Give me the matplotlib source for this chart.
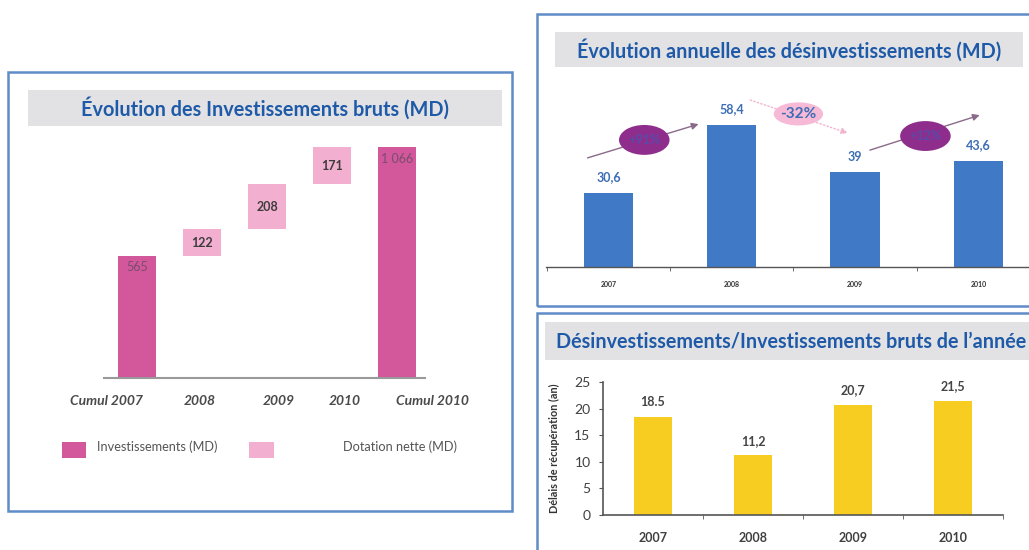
import matplotlib
matplotlib.use("Agg")
import matplotlib.pyplot as plt
from matplotlib.patches import Rectangle, Ellipse
from matplotlib.transforms import ScaledTranslation
import numpy as np

plt.rcParams['font.family'] = ['Lato', 'DejaVu Sans']

# ---------------------------------------------------------------
# data
# ---------------------------------------------------------------
# left: waterfall of gross investments (MD)
wf_labels = ["Cumul 2007", "2008", "2009", "2010", "Cumul 2010"]
wf_start = 565
wf_steps = [122, 208, 171]
wf_total = wf_start + sum(wf_steps)        # 1 066

# top right: yearly divestments (MD)
div_years = ["2007", "2008", "2009", "2010"]
div_values = [30.6, 58.4, 39, 43.6]
div_value_labels = ["30,6", "58,4", "39", "43,6"]
div_growth = ["+91%", "-32%", "+12%"]

# bottom right: divestments / gross investments of the year
ratio_years = ["2007", "2008", "2009", "2010"]
ratio_values = [18.5, 11.2, 20.7, 21.5]
ratio_labels = ["18.5", "11,2", "20,7", "21,5"]

# ---------------------------------------------------------------
# colours
# ---------------------------------------------------------------
DARK_PINK = "#d2579b"
LIGHT_PINK = "#f3afd0"
BAR_BLUE = "#4079c5"
YELLOW = "#f8cd22"
TITLE_BLUE = "#1e5aa8"
LABEL_BLUE = "#3c6db5"
BORDER = "#5f8cc6"
BOX_GRAY = "#e2e2e4"
PURPLE = "#8e2d8c"

W, H = 1029, 550


def px_rect(x0, y0, x1, y1):
    """pixel box (top-left origin) -> figure fraction rect"""
    return [x0 / W, 1 - y1 / H, (x1 - x0) / W, (y1 - y0) / H]


def fig_box(fig, x0, y0, x1, y1, **kw):
    r = px_rect(x0, y0, x1, y1)
    fig.add_artist(Rectangle((r[0], r[1]), r[2], r[3],
                             transform=fig.transFigure, **kw))


def fig_text(fig, x, y, s, **kw):
    fig.text(x / W, 1 - y / H, s, **kw)


fig = plt.figure(figsize=(W / 100, H / 100), dpi=100)
fig.patch.set_facecolor("white")

# panel frames
fig_box(fig, 8, 72, 512, 511, fill=False, edgecolor=BORDER, lw=1.8)
fig_box(fig, 537, 14, 1040, 306, fill=False, edgecolor=BORDER, lw=1.8)
fig_box(fig, 537, 313, 1040, 560, fill=False, edgecolor=BORDER, lw=1.8)

# title boxes
fig_box(fig, 28, 90, 502, 126, facecolor=BOX_GRAY, edgecolor="none")
fig_text(fig, 265, 108, "Évolution des Investissements bruts (MD)",
         ha="center", va="center", fontsize=14.3, fontweight="bold",
         color=TITLE_BLUE)
fig_box(fig, 555, 32, 1023, 67, facecolor=BOX_GRAY, edgecolor="none")
fig_text(fig, 789, 50, "Évolution annuelle des désinvestissements (MD)",
         ha="center", va="center", fontsize=14.2, fontweight="bold",
         color=TITLE_BLUE)
fig_box(fig, 545, 322, 1035, 360, facecolor=BOX_GRAY, edgecolor="none")
fig_text(fig, 791, 342, "Désinvestissements/Investissements bruts de l\u2019année",
         ha="center", va="center", fontsize=14.2, fontweight="bold",
         color=TITLE_BLUE)

# ---------------------------------------------------------------
# left: waterfall
# ---------------------------------------------------------------
ax1 = fig.add_axes(px_rect(104, 140, 425, 378))
x1 = np.arange(len(wf_labels))
bw = 0.585
ax1.bar(x1[0], wf_start, width=bw, color=DARK_PINK)
ax1.bar(x1[-1], wf_total, width=bw, color=DARK_PINK)
bottoms = wf_start + np.concatenate([[0], np.cumsum(wf_steps)[:-1]])
ax1.bar(x1[1:-1], wf_steps, bottom=bottoms, width=bw, color=LIGHT_PINK)

for xi, v in [(x1[0], wf_start), (x1[-1], wf_total)]:
    ax1.annotate(f"{v:,}".replace(",", " "), (xi, v), xytext=(0, -4),
                 textcoords="offset points", ha="center", va="top",
                 fontsize=9, color="#7a4d6e")
for xi, b, v in zip(x1[1:-1], bottoms, wf_steps):
    ax1.text(xi, b + v / 2, str(v), ha="center", va="center",
             fontsize=9, fontweight="bold", color="#3c3c3c")

ax1.set_xlim(-0.508, 4.43)
ax1.set_ylim(0, 1100)
ax1.set_xticks(x1)
ax1.set_xticklabels(wf_labels, fontstyle="italic", fontweight="bold",
                    fontsize=10, color="#4a4a4a")
ax1.tick_params(axis="x", length=0, pad=12)
# the original labels sit a little off the bar centres
shifts = [6, -2, 12, 13, -1]
aligns = ["right", "center", "center", "center", "left"]
for lab, dx, ha in zip(ax1.get_xticklabels(), shifts, aligns):
    lab.set_ha(ha)
    lab.set_transform(lab.get_transform() +
                      ScaledTranslation(dx / 100, 0, fig.dpi_scale_trans))
ax1.set_yticks([])
for s in ["top", "right", "left"]:
    ax1.spines[s].set_visible(False)
ax1.spines["bottom"].set_color("#9a9a9a")
ax1.spines["bottom"].set_linewidth(1.5)
ax1.patch.set_alpha(0)

# legend (drawn by hand to keep the original spacing)
fig_box(fig, 62, 442, 86, 458, facecolor=DARK_PINK, edgecolor="none")
fig_text(fig, 97, 447, "Investissements (MD)", ha="left", va="center",
         fontsize=9.2, color="#555555")
fig_box(fig, 249, 442, 274, 458, facecolor=LIGHT_PINK, edgecolor="none")
fig_text(fig, 343, 447, "Dotation nette (MD)", ha="left", va="center",
         fontsize=9.2, color="#555555")

# ---------------------------------------------------------------
# top right: yearly divestments
# ---------------------------------------------------------------
ax2 = fig.add_axes(px_rect(546, 85, 1029, 267))
x2 = np.arange(len(div_years))
ax2.bar(x2, div_values, width=0.4, color=BAR_BLUE)
for xi, v, lab in zip(x2, div_values, div_value_labels):
    ax2.annotate(lab, (xi, v), xytext=(0, 7), textcoords="offset points",
                 ha="center", va="bottom", fontsize=9, fontweight="bold",
                 color=LABEL_BLUE)

# growth arrows between consecutive years
arrows = [
    # (start x, start y, end x, end y, ellipse x, ellipse y, style)
    (x2[0] - 0.17, div_values[0] + 14.3, x2[1] - 0.27, div_values[1] + 0.4,
     x2[0] + 0.29, div_values[0] + 21.7, "up"),
    (x2[1] + 0.15, div_values[1] + 10.3, x2[2] - 0.06, div_values[2] + 16.1,
     x2[1] + 0.54, div_values[1] + 4.6, "down"),
    (x2[2] + 0.12, div_values[2] + 9.1, x2[3] + 0.01, div_values[3] + 18.9,
     x2[2] + 0.57, div_values[2] + 14.9, "up"),
]
for (sx, sy, ex, ey, cx, cy, kind), lab in zip(arrows, div_growth):
    if kind == "up":
        ax2.annotate("", xy=(ex, ey), xytext=(sx, sy),
                     arrowprops=dict(arrowstyle="-|>", color="#8a6a8a",
                                     lw=1.0, mutation_scale=10,
                                     shrinkA=0, shrinkB=0),
                     annotation_clip=False)
        ax2.add_patch(Ellipse((cx, cy), 0.41, 12.3, facecolor=PURPLE,
                              edgecolor="none", clip_on=False, zorder=3))
        ax2.text(cx, cy, lab, ha="center", va="center", fontsize=9,
                 fontweight="bold", color="#5a4aa8", zorder=4,
                 clip_on=False)
    else:
        ax2.annotate("", xy=(ex, ey), xytext=(sx, sy),
                     arrowprops=dict(arrowstyle="-|>", color="#f2b3cf",
                                     lw=1.0, ls=":", mutation_scale=9,
                                     shrinkA=0, shrinkB=0),
                     annotation_clip=False)
        ax2.add_patch(Ellipse((cx, cy), 0.40, 9.5, facecolor="#f6b9d6",
                              edgecolor="none", clip_on=False, zorder=3))
        ax2.text(cx, cy, lab, ha="center", va="center", fontsize=11,
                 fontweight="bold", color=LABEL_BLUE, zorder=4,
                 clip_on=False)

ax2.set_xlim(-0.507, 3.41)
ax2.set_ylim(0, 74.9)
ax2.set_xticks(x2)
ax2.set_xticklabels(div_years, fontsize=5, fontweight="bold", color="#333333")
ax2.tick_params(axis="x", which="major", length=0, pad=10)
ax2.set_xticks(x2 - 0.5, minor=True)
ax2.tick_params(axis="x", which="minor", length=3, color="#555555")
ax2.set_yticks([])
for s in ["top", "right", "left"]:
    ax2.spines[s].set_visible(False)
ax2.spines["bottom"].set_color("#555555")
ax2.spines["bottom"].set_linewidth(1.0)
ax2.patch.set_alpha(0)

# ---------------------------------------------------------------
# bottom right: ratio
# ---------------------------------------------------------------
ax3 = fig.add_axes(px_rect(603, 382, 1003, 515))
x3 = np.arange(len(ratio_years))
ax3.bar(x3, ratio_values, width=0.38, color=YELLOW)
for xi, v, lab in zip(x3, ratio_values, ratio_labels):
    ax3.annotate(lab, (xi, v), xytext=(0, 6), textcoords="offset points",
                 ha="center", va="bottom", fontsize=9, fontweight="bold",
                 color="#444444")
ax3.set_xlim(-0.5, 3.5)
ax3.set_ylim(0, 25)
ax3.set_yticks([0, 5, 10, 15, 20, 25])
ax3.tick_params(axis="y", labelsize=10, labelcolor="#404040", length=3,
                color="#555555", pad=6)
ax3.set_xticks(x3)
ax3.set_xticklabels(ratio_years, fontsize=9, fontweight="bold",
                    color="#404040")
ax3.tick_params(axis="x", which="major", length=0, pad=12)
ax3.set_xticks(x3 + 0.5, minor=True)
ax3.tick_params(axis="x", which="minor", length=3, color="#555555")
ax3.set_ylabel("Délais de récupération (an)", fontsize=7.8, fontweight="bold",
               color="#333333")
ax3.yaxis.set_label_coords(-43 / 400, 0.5)
for s in ["top", "right"]:
    ax3.spines[s].set_visible(False)
for s in ["left", "bottom"]:
    ax3.spines[s].set_color("#555555")
    ax3.spines[s].set_linewidth(1.2)
ax3.patch.set_alpha(0)

fig.savefig("out.png", dpi=100)
plt.close(fig)
